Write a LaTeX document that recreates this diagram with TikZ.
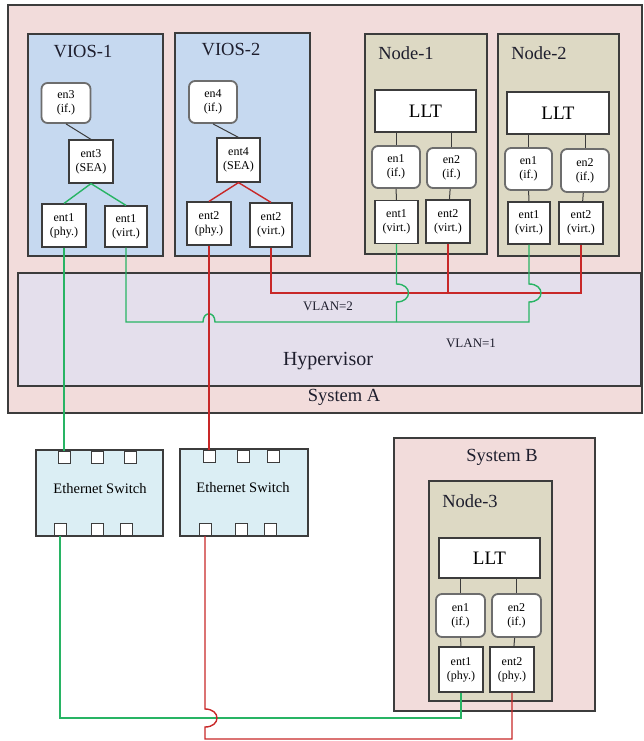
\documentclass[tikz,border=0pt]{standalone}
\usepackage{fontspec}
\setmainfont{Liberation Serif}
\usepackage{tikz}
\usetikzlibrary{calc}
\definecolor{boxgray}{RGB}{60,60,60}
\definecolor{syspink}{RGB}{242,220,219}
\definecolor{viosblue}{RGB}{198,217,240}
\definecolor{hosttan}{RGB}{221,217,196}
\definecolor{hyperlav}{RGB}{228,223,236}
\definecolor{switchcyan}{RGB}{219,238,244}
\definecolor{vlangreen}{RGB}{40,180,100}
\definecolor{vlanred}{RGB}{200,40,40}
\definecolor{titleink}{RGB}{30,30,45}

\begin{document}
\begin{tikzpicture}[
    x=1pt, y=-1pt,
    frame/.style={draw=boxgray, line width=1.2pt, inner sep=0pt},
    sysbox/.style={frame, fill=syspink},
    viosbox/.style={frame, fill=viosblue},
    hostbox/.style={frame, fill=hosttan},
    hyperbox/.style={frame, fill=hyperlav},
    switchbox/.style={frame, fill=switchcyan, font=\fontsize{14.5}{16}\selectfont},
    ifbox/.style={rounded corners=6pt, draw=boxgray!75, line width=1.8pt, fill=white,
      inner sep=0pt, align=center, font=\fontsize{12}{14}\selectfont},
    entbox/.style={frame, fill=white, align=center, font=\fontsize{12}{14}\selectfont},
    lltbox/.style={frame, fill=white, font=\fontsize{19}{21}\selectfont},
    port/.style={draw=boxgray, line width=1pt, fill=white, minimum size=12pt, inner sep=0pt},
    title/.style={font=\fontsize{18.5}{20}\selectfont, text=titleink},
    vlan/.style={font=\fontsize{13}{15}\selectfont, text=titleink},
    link/.style={draw=boxgray, line width=1pt},
    greenwire/.style={draw=vlangreen, line width=1.4pt},
    redwire/.style={draw=vlanred, line width=1.4pt}
  ]
  \useasboundingbox (0,0) rectangle (643,741);

  %% --- systems ---
  \node[sysbox, minimum width=634pt, minimum height=408pt] (sysA) at (325,209) {};
  \node[hyperbox, minimum width=623pt, minimum height=113pt] (hyper) at (329.5,329.5) {};
  \node[sysbox, minimum width=201pt, minimum height=273pt] (sysB) at (494.5,574.5) {};

  \node[title] (sysAlbl) at (344,397) {System A};
  \node[title, font=\fontsize{20}{22}\selectfont] (hyperlbl) at (328,361) {Hypervisor};
  \node[title] (sysBlbl) at (502,457) {System B};
  \node[vlan] (vlantwo) at (328,306) {VLAN=2};
  \node[vlan] (vlanone) at (471,343) {VLAN=1};

  %% --- VIOS partitions ---
  \node[viosbox, minimum width=135pt, minimum height=222pt] (vios1) at (95.5,145) {};
  \node[viosbox, minimum width=135pt, minimum height=223pt] (vios2) at (242.5,144.5) {};
  \node[title] (vios1lbl) at (83,52) {VIOS-1};
  \node[title] (vios2lbl) at (231,50) {VIOS-2};

  \node[ifbox, minimum width=49pt, minimum height=40pt] (en3) at (66,103) {en3\\(if.)};
  \node[entbox, minimum width=44pt, minimum height=43pt] (ent3) at (91,161.5) {ent3\\(SEA)};
  \node[entbox, minimum width=44pt, minimum height=43pt] (v1phy) at (64,225.5) {ent1\\(phy.)};
  \node[entbox, minimum width=42pt, minimum height=41pt] (v1virt) at (126,226.5) {ent1\\(virt.)};

  \node[ifbox, minimum width=48pt, minimum height=42pt] (en4) at (213,102) {en4\\(if.)};
  \node[entbox, minimum width=43pt, minimum height=44pt] (ent4) at (238.5,160) {ent4\\(SEA)};
  \node[entbox, minimum width=44pt, minimum height=43pt] (v2phy) at (209,223.5) {ent2\\(phy.)};
  \node[entbox, minimum width=42pt, minimum height=44pt] (v2virt) at (271,225) {ent2\\(virt.)};

  %% --- cluster nodes ---
  \node[hostbox, minimum width=122pt, minimum height=220pt] (node1) at (426,144) {};
  \node[hostbox, minimum width=121pt, minimum height=222pt] (node2) at (558.5,145) {};
  \node[hostbox, minimum width=123pt, minimum height=220pt] (node3) at (490.5,591) {};
  \node[title] (node1lbl) at (406,53) {Node-1};
  \node[title] (node2lbl) at (539,53) {Node-2};
  \node[title] (node3lbl) at (470,501) {Node-3};

  \node[lltbox, minimum width=101pt, minimum height=42pt] (n1llt) at (425.5,111) {LLT};
  \node[ifbox, minimum width=48pt, minimum height=42pt] (n1if1) at (396,167) {en1\\(if.)};
  \node[ifbox, minimum width=49pt, minimum height=40pt] (n1if2) at (451.5,168) {en2\\(if.)};
  \node[entbox, minimum width=43pt, minimum height=43pt] (n1virt1) at (396.5,222) {ent1\\(virt.)};
  \node[entbox, minimum width=44pt, minimum height=43pt] (n1virt2) at (448,221.5) {ent2\\(virt.)};

  \node[lltbox, minimum width=102pt, minimum height=42pt] (n2llt) at (558,113) {LLT};
  \node[ifbox, minimum width=47pt, minimum height=42pt] (n2if1) at (528.5,169) {en1\\(if.)};
  \node[ifbox, minimum width=48pt, minimum height=43pt] (n2if2) at (585,170.5) {en2\\(if.)};
  \node[entbox, minimum width=42pt, minimum height=42pt] (n2virt1) at (529,223) {ent1\\(virt.)};
  \node[entbox, minimum width=44pt, minimum height=42pt] (n2virt2) at (581,223) {ent2\\(virt.)};

  \node[lltbox, minimum width=101pt, minimum height=40pt] (n3llt) at (489.5,558) {LLT};
  \node[ifbox, minimum width=49pt, minimum height=43pt] (n3if1) at (460.5,615.5) {en1\\(if.)};
  \node[ifbox, minimum width=49pt, minimum height=43pt] (n3if2) at (516.5,615.5) {en2\\(if.)};
  \node[entbox, minimum width=44pt, minimum height=45pt] (n3phy1) at (461,669.5) {ent1\\(phy.)};
  \node[entbox, minimum width=44pt, minimum height=45pt] (n3phy2) at (512,669.5) {ent2\\(phy.)};

  %% --- switches ---
  \node[switchbox, minimum width=127pt, minimum height=86pt] (sw1) at (99.5,493) {};
  \node[switchbox, minimum width=128pt, minimum height=87pt] (sw2) at (244,492.5) {};
  \node[switchbox, draw=none, fill=none] (sw1lbl) at (100,489) {Ethernet Switch};
  \node[switchbox, draw=none, fill=none] (sw2lbl) at (243,488) {Ethernet Switch};
  \foreach \i/\x in {1/64, 2/97.5, 3/130}
    \node[port] (sw1t\i) at (\x,457) {};
  \foreach \i/\x in {1/60, 2/97.5, 3/126.5}
    \node[port] (sw1b\i) at (\x,529.5) {};
  \foreach \i/\x in {1/209, 2/243, 3/273.5}
    \node[port] (sw2t\i) at (\x,456) {};
  \foreach \i/\x in {1/205, 2/241.5, 3/270}
    \node[port] (sw2b\i) at (\x,529.5) {};

  %% --- links inside partitions ---
  \draw[link] (en3.south) -- (ent3.north);
  \draw[link] (en4.south) -- (ent4.north);
  \draw[greenwire] (v1phy.north) -- (ent3.south) -- (v1virt.north);
  \draw[redwire] (v2phy.north) -- (ent4.south) -- (v2virt.north);
  \foreach \n in {1,2,3} {
    \draw[link] (n\n if1.north |- n\n llt.south) -- (n\n if1.north);
    \draw[link] (n\n if2.north |- n\n llt.south) -- (n\n if2.north);
  }
  \draw[link] (n1if1) -- (n1virt1);
  \draw[link] (n1if2) -- (n1virt2);
  \draw[link] (n2if1) -- (n2virt1);
  \draw[link] (n2if2) -- (n2virt2);
  \draw[link] (n3if1) -- (n3phy1);
  \draw[link] (n3if2) -- (n3phy2);

  %% --- VLAN buses in the hypervisor ---
  \coordinate (busR) at (0,293);
  \coordinate (busG) at (0,322);
  \coordinate (busB) at (0,718);
  \coordinate (busC) at (0,739);

  \draw[redwire] (v2virt.south) |- (n2virt2.south |- busR) -- (n2virt2.south);
  \draw[redwire] (n1virt2.south) -- (n1virt2.south |- busR);

  \draw[greenwire] (v1virt.south) |- ($(v2phy.south |- busG)+(-6,0)$)
    .. controls +(0,-11) and +(0,-11) .. ++(12,0)
    -- (n2virt1.south |- busG) -- ($(n2virt1.south |- busR)+(0,9)$)
    .. controls +(16,0) and +(16,0) .. ++(0,-18)
    -- (n2virt1.south);
  \draw[greenwire] (n1virt1.south) -- ($(n1virt1.south |- busR)+(0,-9)$)
    .. controls +(16,0) and +(16,0) .. ++(0,18)
    -- (n1virt1.south |- busG);

  %% --- physical links ---
  \draw[greenwire] (v1phy.south) -- (sw1t1.north);
  \draw[redwire] (v2phy.south) -- (sw2t1.north);
  \draw[greenwire] (sw1b1.south) |- (n3phy1.south |- busB) -- (n3phy1.south);
  \draw[redwire] (sw2b1.south) -- ($(sw2b1.south |- busB)+(0,-9)$)
    .. controls +(16,0) and +(16,0) .. ++(0,18)
    |- (n3phy2.south |- busC) -- (n3phy2.south);
\end{tikzpicture}
\end{document}
